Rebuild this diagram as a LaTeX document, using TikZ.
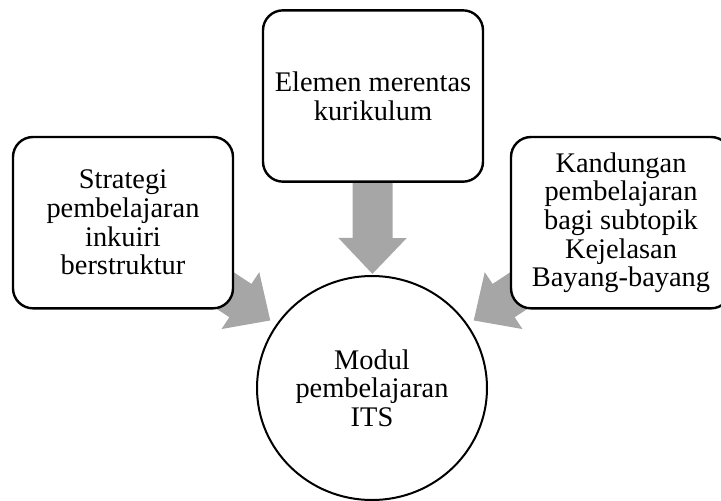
\documentclass[tikz,border=0pt]{standalone}
\usepackage{fontspec}
\setmainfont{Liberation Serif}
\usetikzlibrary{shapes.geometric,arrows.meta,calc,backgrounds}

\definecolor{arrowgray}{HTML}{A6A6A6}

\tikzset{
  kotak/.style={draw, line width=1.8pt, rounded corners=15pt, fill=white,
    minimum width=165pt, minimum height=128.5pt, align=center, inner sep=2pt},
  bulatan/.style={draw, ellipse, line width=1.5pt, fill=white,
    minimum width=172.5pt, minimum height=168pt, align=center, inner sep=0pt},
  anakpanah/.style={arrowgray, line width=30pt,
    -{Triangle[width=49.5pt,length=27pt]}}
}

\begin{document}
\begin{tikzpicture}[x=1pt, y=-1pt,
  every node/.style={font=\fontsize{21.3pt}{21.5pt}\selectfont}]

% Page frame
\useasboundingbox (0,0) rectangle (540.75,375);

%%%%%%%%%%%%%%%%%%%%%%%%%%%%%%%%%%%%%%%%%%%%%%%%%%%%%%%%%%%%%%%%
% Boxes
%%%%%%%%%%%%%%%%%%%%%%%%%%%%%%%%%%%%%%%%%%%%%%%%%%%%%%%%%%%%%%%%

\node [kotak] (elemen) at (279.75,72) {Elemen merentas\\kurikulum};

\node [kotak] (strategi) at (92.25,167) {Strategi\\pembelajaran\\inkuiri\\berstruktur};

\node [kotak] (kandungan) at (465.75,167) {Kandungan\\pembelajaran\\bagi subtopik\\Kejelasan\\Bayang-bayang};

% Centre
\node [bulatan] (modul) at (279,291) {Modul\\pembelajaran\\ITS};

%%%%%%%%%%%%%%%%%%%%%%%%%%%%%%%%%%%%%%%%%%%%%%%%%%%%%%%%%%%%%%%%
% Arrows
%%%%%%%%%%%%%%%%%%%%%%%%%%%%%%%%%%%%%%%%%%%%%%%%%%%%%%%%%%%%%%%%

\begin{scope}[on background layer]
\draw [anakpanah] (elemen.center) to ($(modul.center)!85.5pt!(elemen.center)$);
\draw [anakpanah] (strategi.center) to ($(modul.center)!91.5pt!(strategi.center)$);
\draw [anakpanah] (kandungan.center) to ($(modul.center)!91.5pt!(kandungan.center)$);
\end{scope}

\end{tikzpicture}
\end{document}
